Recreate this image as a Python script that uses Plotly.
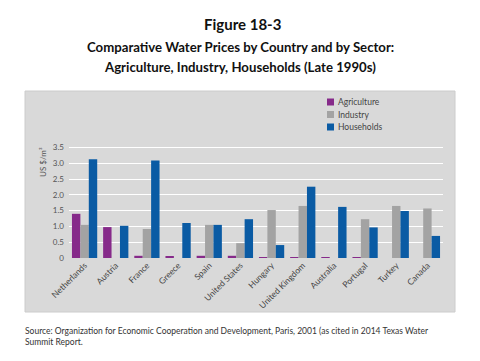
import plotly.graph_objects as go

countries = ["Netherlands", "Austria", "France", "Greece", "Spain", "United States",
             "Hungary", "United Kingdom", "Australia", "Portugal", "Turkey", "Canada"]
agriculture = [1.40, 0.98, 0.07, 0.06, 0.07, 0.07, 0.03, 0.03, 0.03, 0.03, 0.0, 0.0]
industry = [1.05, 0.0, 0.92, 0.0, 1.05, 0.47, 1.52, 1.65, 0.0, 1.23, 1.65, 1.57]
households = [3.13, 1.02, 3.09, 1.11, 1.05, 1.23, 0.41, 2.26, 1.62, 0.97, 1.49, 0.70]
ytick_vals = [0, 0.5, 1.0, 1.5, 2.0, 2.5, 3.0, 3.5]
ytick_text = ["0", "0.5", "1.0", "1.5", "2.0", "2.5", "3.0", "3.5"]
series_names = ["Agriculture", "Industry", "Households"]
series_colors = ["#862a8a", "#a3a3a3", "#0a5ba4"]

W, H = 480, 361
L, R, T, B = 69, 443, 146, 258  # plot area in pixels


def px(x):
    return (x - L) / (R - L)


def py(y):
    return (B - y) / (B - T)


fig = go.Figure()
for name, vals, col in zip(series_names, [agriculture, industry, households], series_colors):
    fig.add_trace(go.Bar(x=countries, y=vals, name=name,
                         marker=dict(color=col, line=dict(width=0))))

shapes = [dict(type="rect", xref="paper", yref="paper", layer="below",
               x0=px(25), x1=px(455), y0=py(312), y1=py(91),
               fillcolor="#d9d9d9", line=dict(color="#cccccc", width=1))]

# manual legend (squares + text)
leg_y = [102, 114.5, 127]
for name, col, yy in zip(series_names, series_colors, leg_y):
    shapes.append(dict(type="rect", xref="paper", yref="paper",
                       x0=px(327), x1=px(334), y0=py(yy + 3.5), y1=py(yy - 3.5),
                       fillcolor=col, line=dict(width=0)))

fig.update_layout(
    width=W, height=H,
    margin=dict(l=L, r=W - R, t=T, b=H - B),
    paper_bgcolor="white",
    plot_bgcolor="#d9d9d9",
    barmode="group", bargap=0.19, bargroupgap=0,
    font=dict(family="Lato", size=8, color="#444"),
    showlegend=False,
    xaxis=dict(tickangle=-45, showgrid=False, ticks="", showline=False, automargin=False,
               tickfont=dict(size=8.5, color="#444")),
    yaxis=dict(range=[0, 3.55], tickvals=ytick_vals, ticktext=ytick_text, automargin=False,
               showgrid=True, gridcolor="white", gridwidth=1, zeroline=False,
               ticks="", tickfont=dict(size=8, color="#555"), ticklabelstandoff=4),
    shapes=shapes,
)

for name, yy in zip(series_names, leg_y):
    fig.add_annotation(text=name, x=px(336), y=py(yy), xref="paper", yref="paper",
                       xanchor="left", yanchor="middle", showarrow=False,
                       font=dict(family="Lato", size=8.5, color="#444"))

annotations = [
    dict(text="<b>Figure 18-3</b>", x=px(242), y=py(24), size=15, color="#111"),
    dict(text="<b>Comparative Water Prices by Country and by Sector:</b>", x=px(240), y=py(47), size=13.2, color="#111"),
    dict(text="<b>Agriculture, Industry, Households (Late 1990s)</b>", x=px(240), y=py(67), size=13.2, color="#111"),
]
for a in annotations:
    fig.add_annotation(text=a["text"], x=a["x"], y=a["y"], xref="paper", yref="paper",
                       xanchor="center", yanchor="middle", showarrow=False,
                       font=dict(family="Lato", size=a["size"], color=a["color"]))

fig.add_annotation(text="US $/m³", x=px(43), y=py(162), xref="paper", yref="paper",
                   textangle=-90, showarrow=False, xanchor="center", yanchor="middle",
                   font=dict(family="Lato", size=8, color="#555"))
fig.add_annotation(text="Source: Organization for Economic Cooperation and Development, Paris, 2001 (as cited in 2014 Texas Water<br>Summit Report.",
                   x=px(23), y=py(324), xref="paper", yref="paper", align="left",
                   xanchor="left", yanchor="top", showarrow=False,
                   font=dict(family="Lato", size=8.5, color="#333"))

fig.write_html("out.html", config={"displayModeBar": False},
               post_script="document.body.style.margin='0';")
